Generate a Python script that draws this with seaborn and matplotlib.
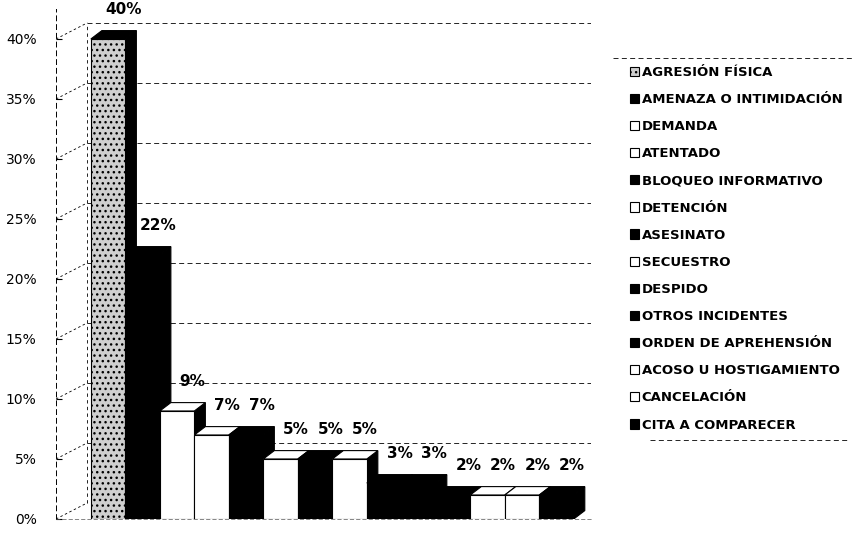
import matplotlib
matplotlib.use("Agg")
import matplotlib.pyplot as plt
import seaborn as sns
from matplotlib.patches import Polygon, Patch
from matplotlib.lines import Line2D

# data
categories = [
    "AGRESIÓN FÍSICA", "AMENAZA O INTIMIDACIÓN", "DEMANDA", "ATENTADO",
    "BLOQUEO INFORMATIVO", "DETENCIÓN", "ASESINATO", "SECUESTRO", "DESPIDO",
    "OTROS INCIDENTES", "ORDEN DE APREHENSIÓN", "ACOSO U HOSTIGAMIENTO",
    "CANCELACIÓN", "CITA A COMPARECER",
]
values = [40, 22, 9, 7, 7, 5, 5, 5, 3, 3, 2, 2, 2, 2]
fills = ["#cfcfcf", "black", "white", "white", "black", "white", "black",
         "white", "black", "black", "black", "white", "white", "black"]
yticks = [0, 5, 10, 15, 20, 25, 30, 35, 40]

sns.set_style("white")
plt.rcParams["font.family"] = ["DejaVu Sans"]
plt.rcParams["text.color"] = "black"
plt.rcParams["ytick.color"] = "black"
plt.rcParams["ytick.labelcolor"] = "black"

fig = plt.figure(figsize=(8.64, 5.33), dpi=100)
ax = fig.add_axes([56 / 864, 14 / 533, 535 / 864, 510 / 533])

sns.barplot(x=categories, y=values, hue=categories, palette=fills,
            width=1.0, edgecolor="black", linewidth=0.8, legend=False,
            saturation=1, ax=ax)

# fake 3D depth
dx, dy = 0.32, 0.7
for i, bar in enumerate(ax.patches):
    x0 = bar.get_x()
    x1 = x0 + bar.get_width()
    h = bar.get_height()
    bar.set_zorder(3 + 2 * i)
    if i == 0:
        bar.set_hatch("...")
    side = Polygon([(x1, 0), (x1 + dx, dy), (x1 + dx, h + dy), (x1, h)],
                   closed=True, facecolor="black", edgecolor="black",
                   lw=0.8, zorder=2 + 2 * i)
    top_col = "white" if fills[i] == "white" else "black"
    top = Polygon([(x0, h), (x0 + dx, h + dy), (x1 + dx, h + dy), (x1, h)],
                  closed=True, facecolor=top_col, edgecolor="black",
                  lw=0.8, zorder=2 + 2 * i)
    ax.add_patch(side)
    ax.add_patch(top)
    ax.text(i + 0.45, h + 1.8, f"{values[i]}%", ha="center", va="bottom",
            fontsize=11, fontweight="bold", color="black", clip_on=False,
            zorder=40)

ax.set_xlim(-1.51, 14.0)
ax.set_ylim(0, 42.5)

# back wall grid
wall_x, wall_dy = -0.6, 1.35
for t in yticks:
    if t > 0:
        ax.hlines(t + wall_dy, wall_x, 14.0, colors="black", lw=0.6,
                  linestyles=(0, (6, 4)), zorder=1)
    ax.plot([-1.51, wall_x], [t, t + wall_dy], color="black", lw=0.6,
            ls=(0, (3, 3)), zorder=1)
ax.vlines(wall_x, wall_dy, 40 + wall_dy, colors="black", lw=0.6,
          linestyles=(0, (4, 4)), zorder=1)

ax.set_yticks(yticks)
ax.set_yticklabels([f"{t}%" for t in yticks])
ax.set_xticks([])
ax.set_xlabel("")
ax.tick_params(axis="y", direction="in", length=4, pad=14, labelsize=10,
               left=True, colors="black")
for s in ["top", "right"]:
    ax.spines[s].set_visible(False)
ax.spines["left"].set_linestyle((0, (5, 4)))
ax.spines["left"].set_linewidth(0.7)
ax.spines["left"].set_color("black")
ax.spines["bottom"].set_linestyle((0, (5, 4)))
ax.spines["bottom"].set_linewidth(0.5)
ax.spines["bottom"].set_color("#555555")

handles = [Patch(facecolor=c, edgecolor="black", lw=0.8,
                 hatch="..." if i == 0 else None)
           for i, c in enumerate(fills)]
fig.legend(handles, categories, loc="upper left",
           bbox_to_anchor=(630 / 864, 1 - 66 / 533), frameon=False,
           handlelength=0.7, handleheight=0.7, handletextpad=0.2,
           labelspacing=1.07, borderpad=0, borderaxespad=0,
           labelcolor="black", prop={"size": 9.5, "weight": "bold"})
fig.add_artist(Line2D([613 / 864, 852 / 864], [1 - 58 / 533] * 2,
                      transform=fig.transFigure, color="black", lw=0.6,
                      ls=(0, (6, 4))))
fig.add_artist(Line2D([650 / 864, 850 / 864], [1 - 440 / 533] * 2,
                      transform=fig.transFigure, color="black", lw=0.6,
                      ls=(0, (6, 4))))

fig.savefig("out.png", dpi=100, facecolor="white")
